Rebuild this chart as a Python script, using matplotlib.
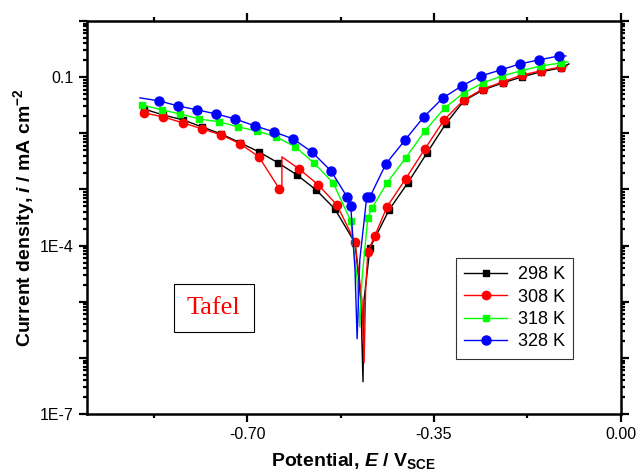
import numpy as np
import matplotlib
matplotlib.use('Agg')
import matplotlib.pyplot as plt
from matplotlib.ticker import FixedLocator, FuncFormatter, NullFormatter

plt.rcParams['font.family'] = 'Liberation Sans'
plt.rcParams['axes.unicode_minus'] = False
plt.rcParams['mathtext.fontset'] = 'custom'
plt.rcParams['mathtext.it'] = 'Liberation Sans:bold:italic'
plt.rcParams['mathtext.rm'] = 'Liberation Sans:bold'
plt.rcParams['mathtext.bf'] = 'Liberation Sans:bold'

# potential E (V vs SCE) and current density i (mA cm^-2)
E298 = [-0.901, -0.893, -0.858, -0.820, -0.785, -0.749, -0.713, -0.678, -0.642, -0.607,
        -0.571, -0.536, -0.498, -0.487, -0.483, -0.481, -0.470, -0.434, -0.399, -0.363,
        -0.328, -0.294, -0.258, -0.221, -0.185, -0.150, -0.112, -0.097]
i298 = [0.0295, 0.0270, 0.0212, 0.0173, 0.0130, 0.00975, 0.00675, 0.00467, 0.00297, 0.00182,
        0.000984, 0.000452, 0.000112, 1.09e-5, 3.77e-7, 1.09e-5, 9.14e-5, 0.000434, 0.00131, 0.00448,
        0.0147, 0.0377, 0.0592, 0.0788, 0.101, 0.124, 0.146, 0.172]
mk298 = [1, 2, 3, 4, 5, 6, 7, 8, 9, 10, 11, 12, 16, 17, 18, 19, 20, 21, 22, 23, 24, 25, 26]

E308 = [-0.893, -0.858, -0.820, -0.785, -0.749, -0.713, -0.678, -0.640, -0.635, -0.635,
        -0.603, -0.567, -0.532, -0.498, -0.485, -0.481, -0.478, -0.474, -0.461, -0.438,
        -0.403, -0.367, -0.331, -0.294, -0.258, -0.221, -0.185, -0.150, -0.112, -0.101]
i308 = [0.0231, 0.0196, 0.0153, 0.0120, 0.00937, 0.00648, 0.00380, 0.00103, 0.000871, 0.00380,
        0.00233, 0.00121, 0.000532, 0.000117, 1.09e-5, 8.2e-7, 1.64e-5, 7.76e-5, 0.000149, 0.000490,
        0.00155, 0.00527, 0.0173, 0.0393, 0.0617, 0.0822, 0.109, 0.129, 0.152, 0.158]
mk308 = [0, 1, 2, 3, 4, 5, 6, 7, 10, 11, 12, 13, 17, 18, 19, 20, 21, 22, 23, 24, 25, 26, 27, 28]

E318 = [-0.897, -0.860, -0.826, -0.790, -0.753, -0.717, -0.682, -0.646, -0.610, -0.575,
        -0.539, -0.506, -0.494, -0.489, -0.485, -0.474, -0.466, -0.438, -0.403, -0.367,
        -0.330, -0.294, -0.258, -0.223, -0.187, -0.150, -0.112, -0.099]
i318 = [0.0320, 0.0261, 0.0221, 0.0180, 0.0160, 0.0130, 0.0110, 0.00863, 0.00573, 0.00297,
        0.00131, 0.000276, 2.46e-5, 3.59e-6, 2.46e-5, 0.000313, 0.000471, 0.00131, 0.00365, 0.0110,
        0.0283, 0.0524, 0.0788, 0.105, 0.129, 0.158, 0.179, 0.186]
mk318 = [0, 1, 2, 3, 4, 5, 6, 7, 8, 9, 10, 11, 15, 16, 17, 18, 19, 20, 21, 22, 23, 24, 25, 26]

E328 = [-0.901, -0.865, -0.830, -0.794, -0.758, -0.723, -0.685, -0.650, -0.614, -0.579,
        -0.543, -0.513, -0.506, -0.498, -0.494, -0.489, -0.476, -0.470, -0.440, -0.404,
        -0.369, -0.333, -0.298, -0.262, -0.225, -0.189, -0.154, -0.116, -0.103]
i328 = [0.0427, 0.0377, 0.0308, 0.0261, 0.0221, 0.0180, 0.0135, 0.0106, 0.00795, 0.00467,
        0.00214, 0.000738, 0.000511, 3.71e-5, 2.2e-6, 5.59e-5, 0.000738, 0.000738, 0.00286, 0.00763,
        0.0196, 0.0427, 0.0697, 0.105, 0.134, 0.172, 0.202, 0.238, 0.238]
mk328 = [1, 2, 3, 4, 5, 6, 7, 8, 9, 10, 11, 12, 16, 17, 18, 19, 20, 21, 22, 23, 24, 25, 26, 27]

labels = ['298 K', '308 K', '318 K', '328 K']
colors = ['black', '#ff0000', '#00ff00', '#0000ff']
markers = ['s', 'o', 's', 'o']
msizes = [5, 6, 5, 6.5]

fig = plt.figure(figsize=(6.36, 4.76), dpi=100)
ax = fig.add_axes([0.137, 0.130, 0.839, 0.826])

series = [(E298, i298, mk298), (E308, i308, mk308), (E318, i318, mk318), (E328, i328, mk328)]
for (E, i, mk), lab, c, m, ms in zip(series, labels, colors, markers, msizes):
    ax.plot(E, i, '-', color=c, lw=1.0, marker=m, ms=ms, markevery=mk,
            mec=c, mfc=c, label=lab)

ax.set_yscale('log')
ax.set_xlim(-1.0, 0.0)
ax.set_ylim(1e-7, 1)

ax.xaxis.set_major_locator(FixedLocator([-1.05, -0.70, -0.35, 0.0]))
ax.xaxis.set_minor_locator(FixedLocator([-0.875, -0.525, -0.175]))
ax.xaxis.set_major_formatter(FuncFormatter(lambda v, p: '%.2f' % v))

ylab = {1e-7: '1E-7', 1e-4: '1E-4', 1e-1: '0.1'}
decades = [10.0 ** k for k in range(-7, 1)]
ax.yaxis.set_major_locator(FixedLocator(decades))
minors = [m * d for d in decades[:-1] for m in range(2, 10)]
ax.yaxis.set_minor_locator(FixedLocator(minors))
ax.yaxis.set_minor_formatter(NullFormatter())

def yfmt(v, p):
    for k, s in ylab.items():
        if abs(np.log10(v) - np.log10(k)) < 1e-6:
            return s
    return ''
ax.yaxis.set_major_formatter(FuncFormatter(yfmt))

for s in ax.spines.values():
    s.set_linewidth(1.8)
ax.tick_params(which='both', direction='out', top=True, right=True, width=1.6, labelsize=11.5)
ax.tick_params(which='major', length=6)
ax.tick_params(which='minor', length=3)

ax.set_xlabel('Potential, $E$ / V$_{\\mathrm{SCE}}$', fontsize=14, fontweight='bold', labelpad=6)
ax.set_ylabel('Current density, $i$ / mA cm$^{\\mathrm{-2}}$', fontsize=14, fontweight='bold', labelpad=2)

leg = ax.legend(loc='upper left', bbox_to_anchor=(0.691, 0.397), fontsize=13, frameon=True,
                fancybox=False, edgecolor='black', handlelength=2.4, numpoints=1,
                borderpad=0.45, labelspacing=0.3, handletextpad=0.6, borderaxespad=0)
leg.get_frame().set_linewidth(0.8)

ax.text(0.237, 0.270, 'Tafel', transform=ax.transAxes, ha='center', va='center',
        color='#ff0000', fontsize=19, family='Liberation Serif',
        bbox=dict(boxstyle='square,pad=0.5', fc='white', ec='black', lw=0.8))

fig.savefig('out.png', dpi=100)
